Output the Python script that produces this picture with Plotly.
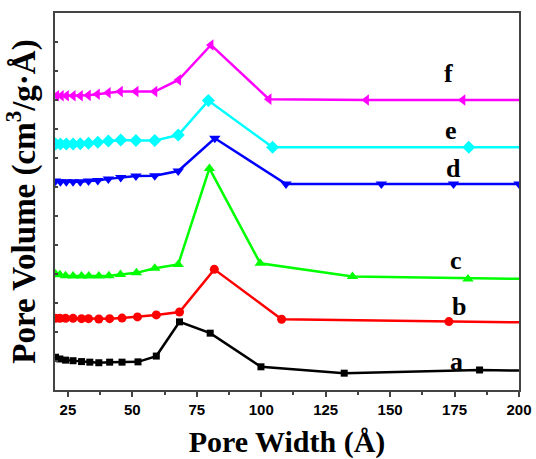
import plotly.graph_objects as go

# ---- data (y in arbitrary offset units) ----
a_x = [20.2, 21.9, 24.1, 27.0, 30.3, 33.5, 37.0, 41.2, 46.0, 52.2, 59.3, 68.3, 80.2, 99.9, 132.2, 184.7, 230]
a_y = [1.13, 1.07, 1.03, 1.01, 0.98, 0.96, 0.94, 0.96, 0.96, 0.97, 1.17, 2.35, 1.96, 0.80, 0.58, 0.69, 0.63]

b_x = [20.2, 21.9, 24.1, 27.0, 30.3, 33.0, 37.0, 41.2, 46.0, 52.0, 59.3, 68.3, 81.8, 107.9, 172.8, 230]
b_y = [2.47, 2.47, 2.47, 2.47, 2.46, 2.46, 2.45, 2.46, 2.48, 2.52, 2.59, 2.69, 4.16, 2.44, 2.36, 2.30]

c_x = [20.2, 21.9, 24.1, 27.0, 30.3, 33.1, 37.0, 40.9, 45.4, 51.6, 58.7, 67.8, 79.9, 99.6, 135.4, 180.2, 230]
c_y = [4.00, 3.97, 3.94, 3.93, 3.93, 3.93, 3.93, 3.94, 3.98, 4.04, 4.20, 4.33, 7.64, 4.37, 3.91, 3.83, 3.80]

d_x = [20.2, 22.1, 24.4, 27.0, 29.8, 33.0, 36.6, 40.7, 45.5, 51.4, 58.7, 67.8, 82.0, 109.6, 146.6, 174.6, 200.0, 230]
d_y = [7.21, 7.18, 7.18, 7.18, 7.18, 7.21, 7.22, 7.28, 7.33, 7.38, 7.39, 7.55, 8.68, 7.10, 7.10, 7.10, 7.10, 7.10]

e_x = [20.2, 22.1, 24.4, 27.0, 29.8, 33.0, 36.6, 40.7, 45.5, 51.4, 58.7, 67.8, 79.5, 104.4, 180.5, 230]
e_y = [8.48, 8.48, 8.48, 8.48, 8.49, 8.51, 8.54, 8.59, 8.62, 8.60, 8.60, 8.79, 9.98, 8.37, 8.37, 8.37]

f_x = [20.6, 22.4, 24.4, 27.0, 29.8, 32.9, 36.4, 40.6, 45.3, 51.4, 58.7, 67.9, 80.5, 103.0, 140.8, 178.2, 230]
f_y = [10.15, 10.15, 10.15, 10.15, 10.15, 10.16, 10.20, 10.25, 10.29, 10.29, 10.29, 10.69, 11.90, 10.03, 10.00, 10.00, 10.00]

labels = ["a", "b", "c", "d", "e", "f"]
label_x = [175.8, 176.7, 175.7, 174.7, 173.7, 172.8]
label_y = [0.98, 2.87, 4.48, 7.65, 8.96, 10.9]

x_ticks = [25, 50, 75, 100, 125, 150, 175, 200]

series = [
    (a_x, a_y, "#000000", "square", 7),
    (b_x, b_y, "#ff0000", "circle", 9),
    (c_x, c_y, "#00ff00", "triangle-up", 10),
    (d_x, d_y, "#0000ff", "triangle-down", 10),
    (e_x, e_y, "#00ffff", "diamond", 10),
    (f_x, f_y, "#ff00ff", "triangle-left", 10),
]

fig = go.Figure()
for (xs, ys, col, sym, sz), name in zip(series, labels):
    fig.add_trace(go.Scatter(
        x=xs, y=ys, mode="lines+markers", name=name,
        line=dict(color=col, width=2.5),
        marker=dict(symbol=sym, size=sz, color=col),
        showlegend=False,
    ))

for t, lx, ly in zip(labels, label_x, label_y):
    fig.add_annotation(x=lx, y=ly, text="<b>%s</b>" % t, showarrow=False,
                       font=dict(family="Liberation Serif", size=26, color="black"))

fig.update_layout(
    template="none",
    width=536, height=459,
    margin=dict(l=55, r=17, t=13, b=69),
    paper_bgcolor="white", plot_bgcolor="white",
    showlegend=False,
    xaxis=dict(range=[20, 200], tickvals=x_ticks, ticks="outside", ticklen=5, tickwidth=1.5,
               tickcolor="#444", showline=True, linecolor="#444", linewidth=2, mirror=True,
               showgrid=False, zeroline=False, automargin=False,
               tickfont=dict(family="Liberation Sans", size=15, color="black", weight="bold"),
               minor=dict(ticks="outside", ticklen=3, dtick=12.5, tickcolor="#444", tickwidth=1.5,
                          showgrid=False),
               title=dict(text="<b>Pore Width (Å)</b>", standoff=18,
                          font=dict(family="Liberation Serif", size=30, color="black"))),
    yaxis=dict(range=[0, 13], dtick=1, ticks="inside", ticklen=3, tickwidth=1.5, tickcolor="#444",
               showticklabels=False, showline=True, linecolor="#444", linewidth=2, mirror=True,
               showgrid=False, zeroline=False, automargin=False,
               title=dict(text="<b>Pore Volume (cm<sup>3</sup>/g·Å)</b>", standoff=10,
                          font=dict(family="Liberation Serif", size=33, color="black"))),
)

fig.write_html("out.html", post_script="document.body.style.margin='0';",
               config={"displayModeBar": False})
